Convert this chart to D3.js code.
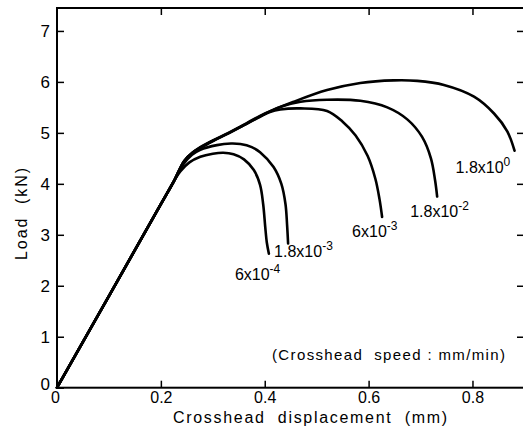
<!DOCTYPE html>
<html><head><meta charset="utf-8">
<script src="https://cdn.jsdelivr.net/npm/d3@7/dist/d3.min.js"></script>
<style>
body{margin:0;background:#fff}
svg{display:block}
text{font-family:"Liberation Sans",Arial,sans-serif;fill:#000;white-space:pre}
</style>
</head><body>
<svg id="chart" width="523" height="434"></svg>
<script>
// ---- data ----
const xTicks = [0, 0.2, 0.4, 0.6, 0.8];
const yTicks = [0, 1, 2, 3, 4, 5, 6, 7];
const xTickLabels = ["0", "0.2", "0.4", "0.6", "0.8"];
const yTickLabels = ["0", "1", "2", "3", "4", "5", "6", "7"];
const speedMantissa = ["6x10", "1.8x10", "6x10", "1.8x10", "1.8x10"];
const speedExponent = ["-4", "-3", "-3", "-2", "0"];

const s6e4 = [[0,0],[0.2,3.6],[0.225,4.05],[0.237,4.24],[0.255,4.42],[0.276,4.53],[0.30,4.59],[0.32,4.61],[0.34,4.58],[0.36,4.48],[0.379,4.27],[0.391,3.98],[0.397,3.6],[0.401,3.15],[0.404,2.85],[0.408,2.63]];
const s18e3 = [[0,0],[0.2,3.6],[0.225,4.05],[0.243,4.38],[0.26,4.57],[0.276,4.67],[0.308,4.76],[0.335,4.79],[0.353,4.78],[0.375,4.72],[0.391,4.62],[0.417,4.33],[0.432,4.0],[0.440,3.6],[0.443,3.2],[0.445,2.83]];
const s6e3 = [[0,0],[0.2,3.6],[0.225,4.05],[0.245,4.45],[0.262,4.62],[0.276,4.71],[0.30,4.84],[0.33,4.99],[0.36,5.15],[0.39,5.31],[0.41,5.41],[0.43,5.46],[0.469,5.48],[0.52,5.43],[0.55,5.22],[0.575,4.95],[0.598,4.55],[0.613,4.1],[0.621,3.7],[0.626,3.35]];
const s18e2 = [[0,0],[0.2,3.6],[0.225,4.05],[0.245,4.45],[0.262,4.62],[0.276,4.71],[0.30,4.84],[0.33,4.99],[0.36,5.15],[0.39,5.32],[0.43,5.51],[0.469,5.61],[0.52,5.65],[0.584,5.63],[0.636,5.5],[0.675,5.26],[0.703,4.92],[0.72,4.5],[0.728,4.07],[0.732,3.75]];
const s18e0 = [[0,0],[0.2,3.6],[0.225,4.05],[0.245,4.45],[0.262,4.62],[0.276,4.72],[0.30,4.85],[0.33,5.0],[0.36,5.16],[0.39,5.33],[0.4557,5.61],[0.52,5.84],[0.584,5.98],[0.6486,6.03],[0.6937,6.02],[0.745,5.94],[0.803,5.71],[0.8415,5.38],[0.867,5.03],[0.881,4.65]];
const allSeries = [s6e4, s18e3, s6e3, s18e2, s18e0];

// ---- layout ----
const labelOffsets = [[-34,26],[-14,14],[-30,20],[-27,20],[-59,22]];
const svg = d3.select("#chart");
const x = d3.scaleLinear().domain([0, 0.905]).range([57, 527]);
const y = d3.scaleLinear().domain([0, 7.45]).range([387.7, 8]);

// frame
svg.append("rect").attr("x", x(0)).attr("y", y(7.45))
  .attr("width", x(0.905) - x(0)).attr("height", y(0) - y(7.45))
  .attr("fill", "none").attr("stroke", "#000").attr("stroke-width", 2);

function styleAxis(g){
  g.select(".domain").remove();
  g.selectAll(".tick line").attr("stroke", "#000").attr("stroke-width", 1.5);
}
const gx = svg.append("g").attr("transform", `translate(0,${y(0)})`)
  .call(d3.axisBottom(x).tickValues(xTicks).tickFormat((d,i)=>xTickLabels[i]).tickSizeInner(-7).tickSizeOuter(0).tickPadding(4));
styleAxis(gx);
gx.selectAll("text").attr("font-size", 16).style("font-family", '"Liberation Sans",Arial,sans-serif');
gx.selectAll(".tick").filter(d=>d===0).select("text").attr("dx", -2);

const gxt = svg.append("g").attr("transform", `translate(0,${y(7.45)})`)
  .call(d3.axisTop(x).tickValues(xTicks.filter(d=>d>0)).tickFormat("").tickSizeInner(-7).tickSizeOuter(0));
styleAxis(gxt);

const gy = svg.append("g").attr("transform", `translate(${x(0)},0)`)
  .call(d3.axisLeft(y).tickValues(yTicks).tickFormat((d,i)=>yTickLabels[i]).tickSizeInner(-7).tickSizeOuter(0).tickPadding(7));
styleAxis(gy);
gy.selectAll("text").attr("font-size", 17).style("font-family", '"Liberation Sans",Arial,sans-serif');
gy.selectAll(".tick").filter(d=>d===0).select("text").attr("dy", "0.1em");

const gyr = svg.append("g").attr("transform", `translate(${x(0.905)},0)`)
  .call(d3.axisRight(y).tickValues(yTicks.filter(d=>d>0)).tickFormat("").tickSizeInner(-10).tickSizeOuter(0));
styleAxis(gyr);

// curves
const line = d3.line().x(d=>x(d[0])).y(d=>y(d[1])).curve(d3.curveCatmullRom.alpha(0.5));
svg.append("g").selectAll("path").data(allSeries).join("path")
  .attr("d", line).attr("fill", "none").attr("stroke", "#000")
  .attr("stroke-width", 2.6).attr("stroke-linecap", "round").attr("stroke-linejoin", "round");

// curve labels
allSeries.forEach((s, i) => {
  const end = s[s.length - 1];
  const t = svg.append("text")
    .attr("x", x(end[0]) + labelOffsets[i][0])
    .attr("y", y(end[1]) + labelOffsets[i][1])
    .attr("font-size", 16);
  t.append("tspan").text(speedMantissa[i]);
  t.append("tspan").attr("dy", -7).attr("font-size", 12).text(speedExponent[i]);
});

// note
svg.append("text").attr("x", 272).attr("y", 360).attr("font-size", 15)
  .attr("textLength", 233).attr("lengthAdjust", "spacing")
  .text("(Crosshead  speed : mm/min)");

// axis titles
svg.append("text").attr("x", 173).attr("y", 423).attr("font-size", 16)
  .attr("textLength", 274).attr("lengthAdjust", "spacing")
  .text("Crosshead  displacement  (mm)");
svg.append("text").attr("transform", "translate(27,260) rotate(-90)")
  .attr("font-size", 16).attr("textLength", 92).attr("lengthAdjust", "spacing")
  .text("Load  (kN)");
</script>
</body></html>
